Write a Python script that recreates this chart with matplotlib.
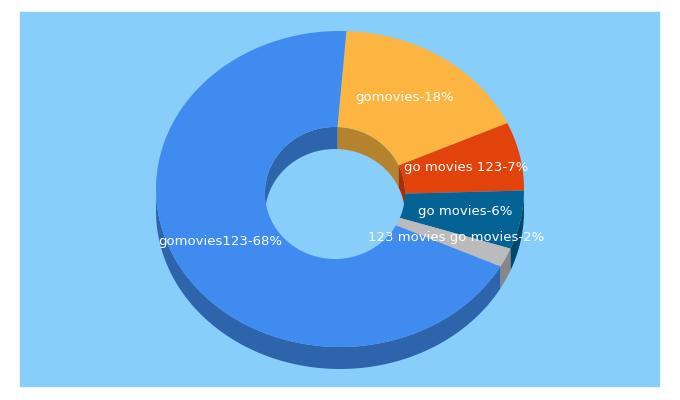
import numpy as np
import matplotlib
matplotlib.use("Agg")
import matplotlib.pyplot as plt
from matplotlib.patches import Polygon, Rectangle
import matplotlib.colors as mc

labels = ["gomovies-18%", "go movies 123-7%", "go movies-6%", "123 movies go movies-2%", "gomovies123-68%"]
values = [17.6, 7.0, 6.0, 2.0, 67.4]
colors = ["#FBB540", "#E2430B", "#046294", "#BBBBBB", "#3F8BEF"]
label_pos = [(405, 97), (466, 167), (465, 212), (456, 238), (220, 242)]

W, H = 680, 400
fig = plt.figure(figsize=(W/100, H/100), dpi=100)
ax = fig.add_axes([0, 0, 1, 1])
ax.set_xlim(0, W); ax.set_ylim(H, 0); ax.axis("off")
ax.add_patch(Rectangle((20, 12), 639, 374, color="#87CEFA", zorder=0))

cx, cy, rx, ry = 340, 189, 184, 158
icx, icy, irx, iry = 335, 193, 70, 66
depth = 22
th0 = 2.0

def pt(c, r1, r2, t):
    t = np.radians(t)
    return c[0] + r1*np.sin(t), c[1] - r2*np.cos(t)

def dark(c, f):
    r = np.array(mc.to_rgb(c)); return tuple(r*f)

bounds = th0 + np.concatenate([[0], np.cumsum(values)]) / sum(values) * 360
# outer walls (visible 90..270)
for i, c in enumerate(colors):
    a, b = max(bounds[i], 90), min(bounds[i+1], 270)
    if a >= b: continue
    ts = np.linspace(a, b, 100)
    top = [pt((cx, cy), rx, ry, t) for t in ts]
    bot = [(x, y+depth) for x, y in top[::-1]]
    ax.add_patch(Polygon(top+bot, closed=True, color=dark(c, 0.72), zorder=1, lw=0))
# inner walls (visible -90..90)
for i, c in enumerate(colors):
    for off in (0, 360):
        a, b = max(bounds[i]-off, -90), min(bounds[i+1]-off, 90)
        if a >= b: continue
        ts = np.linspace(a, b, 100)
        top = [pt((icx, icy), irx, iry, t) for t in ts]
        bot = [(x, y+depth) for x, y in top[::-1]]
        ax.add_patch(Polygon(top+bot, closed=True, color=dark(c, 0.72), zorder=1, lw=0))
# top faces
for i, c in enumerate(colors):
    ts = np.linspace(bounds[i], bounds[i+1], 200)
    outer = [pt((cx, cy), rx, ry, t) for t in ts]
    inner = [pt((icx, icy), irx, iry, t) for t in ts[::-1]]
    ax.add_patch(Polygon(outer+inner, closed=True, color=c, zorder=2, lw=0))
for (x, y), s in zip(label_pos, labels):
    ax.text(x, y, s, color="white", fontsize=9.5, ha="center", va="center", zorder=3)

fig.savefig("out.png", dpi=100)
